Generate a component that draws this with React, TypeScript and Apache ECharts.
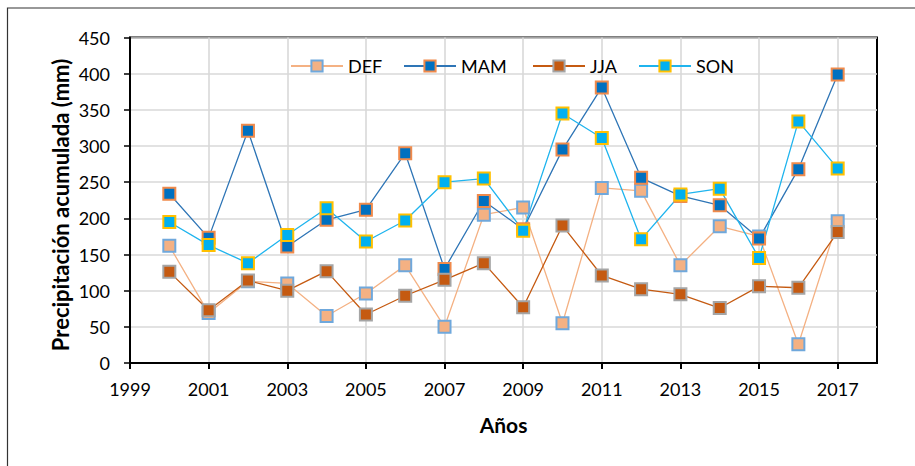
import React, { useEffect, useRef } from "react";
import * as echarts from "echarts";

// Seasonal accumulated precipitation (mm) per year
const years = [2000, 2001, 2002, 2003, 2004, 2005, 2006, 2007, 2008, 2009, 2010, 2011, 2012, 2013, 2014, 2015, 2016, 2017];
const def = [162, 69, 113, 110, 65, 96, 135, 50, 205, 215, 55, 242, 238, 135, 189, 175, 26, 196];
const mam = [234, 173, 321, 161, 198, 212, 290, 130, 224, 185, 295, 381, 256, 231, 218, 172, 268, 399];
const jja = [126, 73, 114, 100, 127, 67, 93, 115, 138, 77, 190, 121, 102, 95, 76, 106, 104, 181];
const son = [195, 163, 138, 177, 214, 168, 197, 250, 255, 183, 345, 311, 171, 233, 241, 145, 334, 269];
const xTicks = [1999, 2001, 2003, 2005, 2007, 2009, 2011, 2013, 2015, 2017];

const FONT = "Lato";
const Y_TITLE = "Precipitación acumulada (mm)";

const seriesDefs = [
  { name: "DEF", values: def, line: "#F4B183", fill: "#F4B183", border: "#6FA8DC", legendLeft: 290 },
  { name: "MAM", values: mam, line: "#2E75B6", fill: "#0070C0", border: "#F08A4B", legendLeft: 403 },
  { name: "JJA", values: jja, line: "#C55A11", fill: "#C55A11", border: "#A5A5A5", legendLeft: 532 },
  { name: "SON", values: son, line: "#1FB4EE", fill: "#00B0F0", border: "#FFC000", legendLeft: 638 },
];

export default function App() {
  const ref = useRef<HTMLDivElement>(null);

  useEffect(() => {
    if (!ref.current) return;
    const chart = echarts.init(ref.current, undefined, { renderer: "svg" });

    const series = seriesDefs.map((s) => ({
      name: s.name,
      type: "line",
      data: years.map((y, i) => [y, s.values[i]]),
      symbol: "rect",
      symbolSize: 12,
      showSymbol: true,
      lineStyle: { color: s.line, width: 1.3 },
      itemStyle: { color: s.fill, borderColor: s.border, borderWidth: 2 },
      emphasis: { disabled: true },
    }));

    const legends = seriesDefs.map((s) => ({
      data: [s.name],
      left: s.legendLeft,
      top: 57,
      padding: 0,
      itemWidth: 52,
      itemHeight: 14,
      textStyle: { fontFamily: FONT, fontSize: 18, color: "#000" },
      selectedMode: false,
    }));

    chart.setOption({
      animation: false,
      backgroundColor: "#fff",
      graphic: [
        {
          type: "rect",
          shape: { x: 7.5, y: 8, width: 1000, height: 1000 },
          style: { fill: "none", stroke: "#333", lineWidth: 1.2 },
          silent: true,
        },
        {
          type: "text",
          x: 60,
          y: 205,
          rotation: Math.PI / 2,
          silent: true,
          style: {
            text: Y_TITLE,
            fontFamily: FONT,
            fontSize: 22,
            fontWeight: "bold",
            fill: "#000",
            align: "center",
            verticalAlign: "middle",
          },
        },
      ],
      legend: legends,
      grid: { left: 130, top: 37.5, right: 38, bottom: 103, show: true, borderColor: "#000", borderWidth: 2, backgroundColor: "transparent" },
      xAxis: {
        type: "value",
        min: 1999,
        max: 2018,
        interval: 2,
        name: "Años",
        nameLocation: "middle",
        nameGap: 51,
        nameTextStyle: { fontFamily: FONT, fontSize: 21, fontWeight: "bold", color: "#000" },
        axisLine: { lineStyle: { color: "#000", width: 2 } },
        axisTick: { show: true, length: 6, lineStyle: { color: "#000", width: 2 }, customValues: xTicks },
        axisLabel: {
          fontFamily: FONT,
          fontSize: 18,
          color: "#000",
          margin: 17,
          customValues: xTicks,
          formatter: (v: number) => String(v),
        },
        splitLine: { show: true, lineStyle: { color: "#D9D9D9", width: 1.6 } },
      },
      yAxis: {
        type: "value",
        min: 0,
        max: 450,
        interval: 50,
        axisLine: { show: true, lineStyle: { color: "#000", width: 2 } },
        axisTick: { show: true, length: 6, lineStyle: { color: "#000", width: 1.5 } },
        axisLabel: { fontFamily: FONT, fontSize: 18, color: "#000", margin: 20 },
        splitLine: { show: true, lineStyle: { color: "#D9D9D9", width: 1.6 } },
      },
      series,
    });

    return () => chart.dispose();
  }, []);

  return (
    <div
      ref={ref}
      style={{ position: "fixed", left: 0, top: 0, width: 915, height: 466, background: "#fff" }}
    />
  );
}
